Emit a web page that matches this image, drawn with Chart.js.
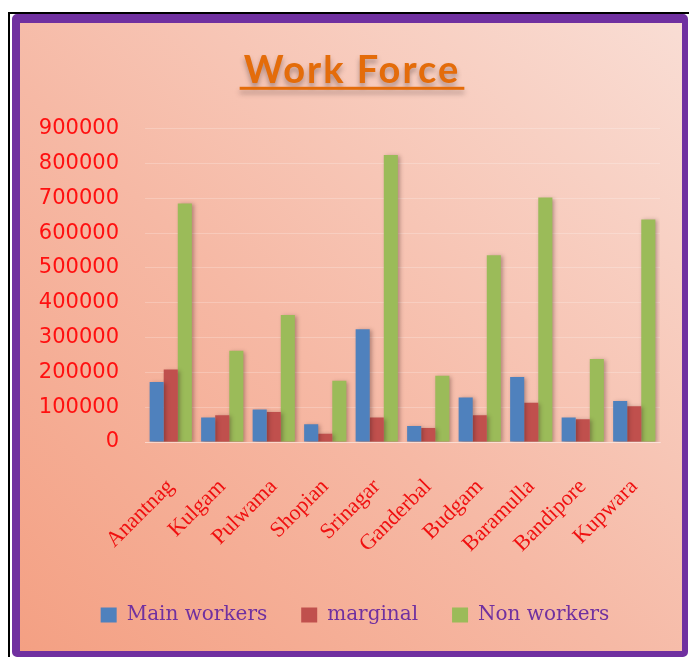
<!DOCTYPE html>
<html>
<head>
<meta charset="utf-8">
<script src="https://cdn.jsdelivr.net/npm/chart.js@4/dist/chart.umd.min.js"></script>
<style>
  html, body { margin:0; padding:0; background:#fff; width:689px; height:657px; overflow:hidden; }
  #outer { position:absolute; left:8px; top:12px; width:700px; height:660px; border-left:2px solid #000; border-top:2px solid #000; background:#fff; }
  #frame { position:absolute; left:12px; top:14px; width:662px; height:628px;
           border-style:solid; border-color:#7030a0; border-width:9px 6px 6px 8px; border-radius:5px;
           background:linear-gradient(to top right, #f4a083 0%, #f6b9a5 45%, #f9ddd4 100%); }
  #c { position:absolute; left:0; top:0; }
</style>
</head>
<body>
<div id="outer"></div>
<div id="frame"><canvas id="c" width="662" height="628"></canvas></div>
<script>
const chartTitle = "Work Force";
const categories = ["Anantnag","Kulgam","Pulwama","Shopian","Srinagar","Ganderbal","Budgam","Baramulla","Bandipore","Kupwara"];
const mainWorkers = [172000, 70000, 93000, 51000, 324000, 46000, 128000, 187000, 70000, 118000];
const marginal    = [208000, 77000, 86000, 24000, 70000, 40000, 77000, 113000, 65000, 103000];
const nonWorkers  = [685000, 262000, 365000, 176000, 824000, 190000, 536000, 702000, 238000, 639000];
const seriesNames = ["Main workers", "marginal", "Non workers"];
const yTicks = [0,100000,200000,300000,400000,500000,600000,700000,800000,900000];

const TITLE_SHIFT = 11;
const LEGEND_SHIFT = 15;

const shadowPlugin = {
  id: 'barShadow',
  beforeDatasetsDraw(chart) {
    const ctx = chart.ctx; ctx.save();
    ctx.shadowColor = 'rgba(60,30,30,0.35)'; ctx.shadowBlur = 4; ctx.shadowOffsetX = 2; ctx.shadowOffsetY = 1;
  },
  afterDatasetsDraw(chart) { chart.ctx.restore(); }
};

const titleStyler = {
  id: 'titleStyler',
  afterLayout(chart) {
    const tb = chart.titleBlock;
    if (tb && !tb._patched) {
      const orig = tb.draw.bind(tb);
      tb.draw = function() {
        const ctx = chart.ctx; ctx.save();
        ctx.translate(TITLE_SHIFT + 1, 0);
        ctx.shadowColor = 'rgba(80,60,60,0.45)'; ctx.shadowBlur = 5; ctx.shadowOffsetY = 4;
        ctx.letterSpacing = '2px';
        orig();
        ctx.restore();
      };
      tb._patched = true;
    }
    const lg = chart.legend;
    if (lg && !lg._patched) {
      const origL = lg.draw.bind(lg);
      lg.draw = function() {
        const ctx = chart.ctx; ctx.save();
        ctx.translate(LEGEND_SHIFT, 0);
        origL();
        ctx.restore();
      };
      lg._patched = true;
    }
  },
  afterDraw(chart) {
    const tb = chart.titleBlock; if (!tb) return;
    const ctx = chart.ctx; const o = tb.options;
    ctx.save();
    ctx.font = 'bold 38px Lato';
    ctx.letterSpacing = '2px';
    const w = ctx.measureText(chartTitle).width;
    const cx = (tb.left + tb.right) / 2 + TITLE_SHIFT;
    const y = tb.top + o.padding.top + 38 * 1.2 / 2 + 16;
    ctx.shadowColor = 'rgba(80,60,60,0.4)'; ctx.shadowBlur = 5; ctx.shadowOffsetY = 4;
    ctx.fillStyle = '#e46c0a';
    ctx.fillRect(cx - w/2 - 3, y, w + 8, 3);
    ctx.restore();
  }
};

new Chart(document.getElementById('c'), {
  type: 'bar',
  data: {
    labels: categories,
    datasets: [
      { label: seriesNames[0], data: mainWorkers, backgroundColor: '#4f81bd' },
      { label: seriesNames[1], data: marginal, backgroundColor: '#c0504d' },
      { label: seriesNames[2], data: nonWorkers, backgroundColor: '#9bbb59' }
    ]
  },
  options: {
    responsive: false,
    animation: false,
    layout: { padding: { left: 0, right: 22, top: 0, bottom: 16 } },
    datasets: { bar: { barPercentage: 1.0, categoryPercentage: 0.82 } },
    plugins: {
      title: {
        display: true, text: chartTitle, color: '#e46c0a',
        font: { family: 'Lato', size: 38, weight: 'bold', lineHeight: 1.2 },
        padding: { top: 25, bottom: 35 }
      },
      legend: {
        position: 'bottom',
        labels: {
          color: '#7030a0', boxWidth: 16, boxHeight: 15, padding: 34,
          font: { family: 'DejaVu Serif', size: 20 }
        }
      },
      tooltip: { enabled: false }
    },
    scales: {
      x: {
        grid: { display: false },
        border: { display: true, color: 'rgba(255,255,255,0.35)' },
        ticks: { color: '#f01010', font: { family: 'Liberation Serif', size: 22 }, minRotation: 45, maxRotation: 45, padding: 24 },
        afterFit(s) { s.height = 129; }
      },
      y: {
        min: 0, max: 900000,
        afterBuildTicks(s) { s.ticks = yTicks.map(v => ({ value: v })); },
        grid: { color: 'rgba(255,255,255,0.22)', drawTicks: false },
        border: { display: false },
        ticks: { color: '#ff1010', font: { family: 'DejaVu Sans', size: 21 }, padding: 26, callback: v => String(v) },
        afterFit(s) { s.width = 125; }
      }
    }
  },
  plugins: [shadowPlugin, titleStyler]
});
</script>
</body>
</html>
